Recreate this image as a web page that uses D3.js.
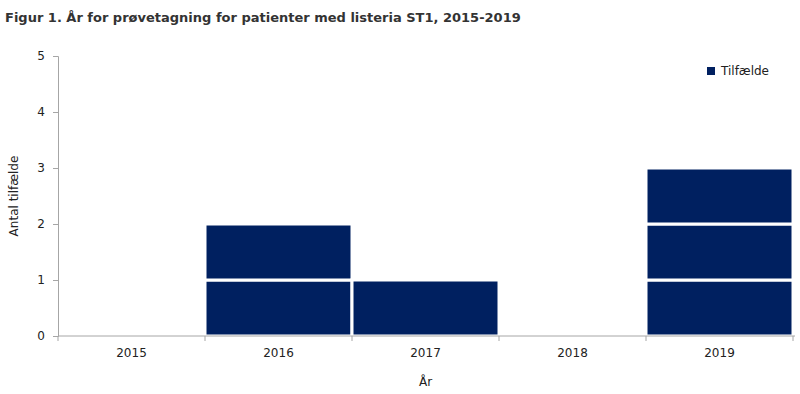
<!DOCTYPE html>
<html>
<head>
<meta charset="utf-8">
<script src="https://cdn.jsdelivr.net/npm/d3@7"></script>
<style>
  body { margin: 0; background: #fff; }
  text { font-family: "DejaVu Sans", sans-serif; fill: #222; }
  .axis path, .axis line { stroke: #a6a6a6; }
  .axis text { font-size: 12px; fill: #222; }
</style>
</head>
<body>
<script>
const years = ['2015', '2016', '2017', '2018', '2019']
const cases = [0, 2, 1, 0, 3]
const yTicks = [0, 1, 2, 3, 4, 5]

const colors = { main: '#002060', axis: '#a6a6a6' }
const width = 800
const height = 394
const margin = { top: 56, right: 7, bottom: 58, left: 58 }
const chartWidth = width - margin.left - margin.right
const chartHeight = height - margin.top - margin.bottom

const svg = d3.select('body').append('svg')
  .attr('width', width)
  .attr('height', height)

const scales = {
  x: d3.scaleBand().domain(years).range([0, chartWidth]).padding(0),
  y: d3.scaleLinear().domain([0, 5]).range([chartHeight, 0])
}

const g = svg.append('g').attr('transform', `translate(${margin.left}, ${margin.top})`)

// one block per case, stacked
const blocks = []
years.forEach((year, i) => {
  d3.range(cases[i]).forEach(k => blocks.push({ year, k }))
})

g.selectAll('rect.block')
  .data(blocks)
  .enter()
  .append('rect')
  .attr('class', 'block')
  .attr('x', d => scales.x(d.year))
  .attr('width', scales.x.bandwidth())
  .attr('y', d => scales.y(d.k + 1))
  .attr('height', d => scales.y(d.k) - scales.y(d.k + 1))
  .attr('fill', colors.main)
  .attr('stroke', '#fff')
  .attr('stroke-width', 3)

// axes
const yAxis = d3.axisLeft(scales.y).tickValues(yTicks).tickFormat(d3.format('d')).tickSize(5).tickPadding(8)
g.append('g').attr('class', 'axis y').call(yAxis)

const xAxis = d3.axisBottom(scales.x).tickSize(0).tickPadding(12)
const xg = g.append('g').attr('class', 'axis x')
  .attr('transform', `translate(0, ${chartHeight})`)
  .call(xAxis)
xg.select('.domain').attr('d', `M0,0H${chartWidth + 2}`)
// boundary ticks between categories
xg.selectAll('line.bound')
  .data(years.concat(['end']))
  .enter()
  .append('line')
  .attr('class', 'bound')
  .attr('x1', (d, i) => i * scales.x.step())
  .attr('x2', (d, i) => i * scales.x.step())
  .attr('y1', 0)
  .attr('y2', 5)

// titles
svg.append('text')
  .attr('x', 5)
  .attr('y', 22)
  .attr('font-size', '13px')
  .attr('font-weight', 'bold')
  .style('fill', '#333')
  .text('Figur 1. År for prøvetagning for patienter med listeria ST1, 2015-2019')

svg.append('text')
  .attr('transform', `translate(18, ${margin.top + chartHeight / 2}) rotate(-90)`)
  .attr('text-anchor', 'middle')
  .attr('font-size', '12px')
  .text('Antal tilfælde')

svg.append('text')
  .attr('x', margin.left + chartWidth / 2)
  .attr('y', 386)
  .attr('text-anchor', 'middle')
  .attr('font-size', '12px')
  .text('År')

// legend
const legend = svg.append('g').attr('transform', 'translate(707, 67)')
legend.append('rect').attr('width', 8).attr('height', 8).attr('fill', colors.main)
legend.append('text').attr('x', 14).attr('y', 8).attr('font-size', '12px').text('Tilfælde')
</script>
</body>
</html>
